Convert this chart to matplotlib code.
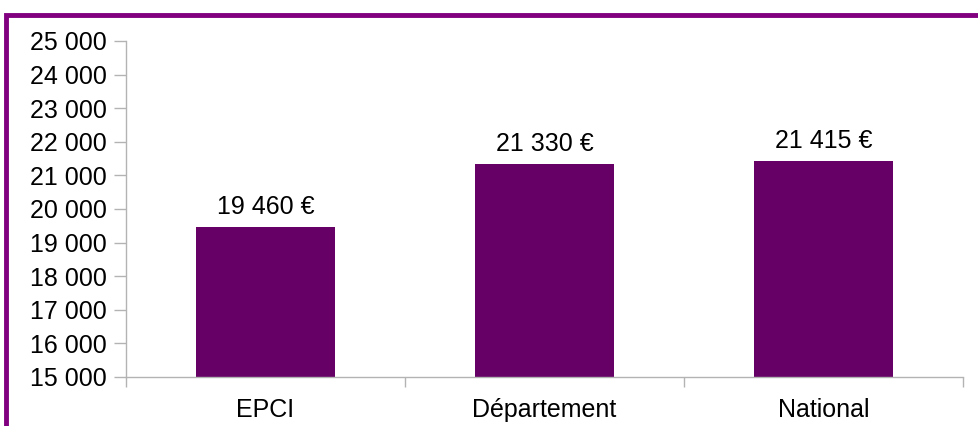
import matplotlib
matplotlib.use('Agg')
import matplotlib.pyplot as plt
import matplotlib.patches as mpatches
import numpy as np

plt.rcParams['font.family'] = ['Liberation Sans', 'DejaVu Sans']

# données
categories = ['EPCI', 'Département', 'National']
valeurs = [19460, 21330, 21415]
y_ticks = list(range(15000, 25001, 1000))

violet = '#660066'
gris = '#b3b3b3'


def fmt(v):
    return '{:,}'.format(v).replace(',', ' ')


fig = plt.figure(figsize=(9.79, 4.26), dpi=100)
ax = fig.add_axes([126 / 979, 49 / 426, 837 / 979, 336 / 426])

x = np.arange(len(categories))
bars = ax.bar(x, [v - 15000 for v in valeurs], bottom=15000, width=0.5, color=violet)

for xi, v in zip(x, valeurs):
    ax.annotate(fmt(v) + ' €', (xi, v), xytext=(0, 6), textcoords='offset points',
                ha='center', va='bottom', fontsize=18)

ax.set_xlim(-0.5, len(categories) - 0.5)
ax.set_ylim(15000, 25000)
ax.set_yticks(y_ticks)
ax.set_yticklabels([fmt(t) for t in y_ticks], fontsize=18)

# séparateurs de catégories en ticks majeurs, étiquettes en ticks mineurs
ax.set_xticks(np.arange(-0.5, len(categories), 1.0))
ax.set_xticklabels([])
ax.set_xticks(x, minor=True)
ax.set_xticklabels(categories, minor=True, fontsize=18)
ax.tick_params(axis='x', which='major', length=7.5, color=gris, width=1)
ax.tick_params(axis='x', which='minor', length=0, pad=15)
ax.tick_params(axis='y', length=8.5, color=gris, width=1, pad=5)

for s in ['top', 'right']:
    ax.spines[s].set_visible(False)
for s in ['left', 'bottom']:
    ax.spines[s].set_color(gris)
    ax.spines[s].set_linewidth(1)

# cadre violet
cadre = mpatches.Rectangle((6.5 / 979, -0.2), 1.2, (426 - 14.5) / 426 + 0.2,
                           transform=fig.transFigure, fill=False,
                           edgecolor='#800080', linewidth=3.5)
fig.patches.append(cadre)

fig.savefig('out.png', dpi=100)
